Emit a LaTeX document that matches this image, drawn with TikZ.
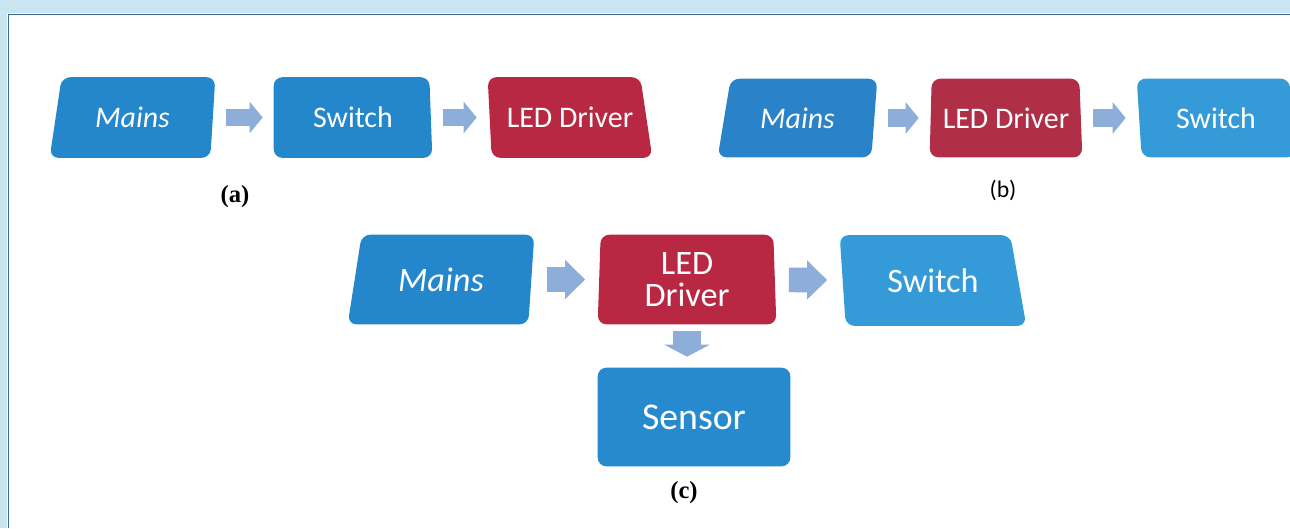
\documentclass[tikz,border=0pt]{standalone}
\usepackage{fontspec}
\setmainfont{Carlito}
\newfontfamily\lblserif{Liberation Serif}
\usetikzlibrary{calc,arrows.meta,backgrounds}

\definecolor{bluebox}{RGB}{36,135,204}
\definecolor{blueboxb}{RGB}{42,130,200}
\definecolor{lightbox}{RGB}{52,155,216}
\definecolor{sensorbox}{RGB}{40,138,206}
\definecolor{redbox}{RGB}{184,40,66}
\definecolor{redboxb}{RGB}{176,46,70}
\definecolor{arrowblue}{RGB}{140,174,216}
\definecolor{bandblue}{RGB}{200,229,241}
\definecolor{frameline}{RGB}{58,108,142}

\tikzset{
  box/.style={inner sep=0pt, text=white, align=center, font=\fontsize{17}{20}\selectfont},
  bigbox/.style={box, font=\fontsize{19.5}{18.2}\selectfont},
  flow/.style={draw=arrowblue, line width=9.7pt, -{Triangle[width=17.6pt,length=7.4pt]},
    shorten <=0.22cm, shorten >=0.22cm},
  bigflow/.style={draw=arrowblue, line width=14pt, -{Triangle[width=21.6pt,length=11.4pt]},
    shorten <=0.25cm, shorten >=0.25cm},
  downflow/.style={draw=arrowblue, line width=15.9pt, -{Triangle[width=25.6pt,length=6.8pt]},
    shorten <=0.14cm, shorten >=0.22cm},
  caption/.style={inner sep=0pt, font=\lblserif\bfseries\fontsize{14}{16}\selectfont}
}

% filled slab behind a node: insets of top-left, top-right, bottom-right, bottom-left corner
\newcommand{\slab}[6]{%
  \fill[#2, rounded corners=5pt] ($(#1.north west)+(#3,0)$) -- ($(#1.north east)+(-#4,0)$)
    -- ($(#1.south east)+(-#5,0)$) -- ($(#1.south west)+(#6,0)$) -- cycle;}

\begin{document}
\begin{tikzpicture}[x=0.02cm, y=-0.02cm]
\def\rowa{117.5}
\def\rowb{118}
\def\rowc{279.5}
\useasboundingbox (0,0) rectangle (1290,528);

% frame of the scan
\fill[bandblue] (0,0) rectangle (1290,13);
\fill[bandblue] (0,0) rectangle (7,528);
\draw[frameline, line width=1.1pt] (8.5,528) -- (8.5,14.5) -- (1290,14.5);

% (a)
\node[box, minimum width=3.3cm, minimum height=1.6cm] (m1) at (132.5,\rowa) {\itshape Mains};
\node[box, minimum width=3.16cm, minimum height=1.6cm] (s1) at (353,\rowa) {Switch};
\node[box, minimum width=3.28cm, minimum height=1.6cm] (l1) at (570,\rowa) {LED Driver};
\draw[flow] (m1) -- (s1);
\draw[flow] (s1) -- (l1);
\node[caption] (lbla) at (235,197) {(a)};

% (b)
\node[box, minimum width=3.18cm, minimum height=1.56cm] (m2) at (797.5,\rowb) {\itshape Mains};
\node[box, minimum width=3.04cm, minimum height=1.56cm] (l2) at (1006,\rowb) {LED Driver};
\node[box, minimum width=3.16cm, minimum height=1.56cm] (w2) at (1216,\rowb) {Switch};
\draw[flow] (m2) -- (l2);
\draw[flow] (l2) -- (w2);
\node[inner sep=0pt, font=\fontsize{13.5}{16}\selectfont] (lblb) at (1003,190) {(b)};

% (c)
\node[bigbox, minimum width=3.72cm, minimum height=1.78cm] (m3) at (441,\rowc) {\itshape Mains};
\node[bigbox, minimum width=3.56cm, minimum height=1.78cm] (l3) at (687,\rowc) {LED\\Driver};
\node[bigbox, minimum width=3.72cm, minimum height=1.8cm] (w3) at (933,\rowc+1) {Switch};
\node[box, font=\fontsize{21.5}{24}\selectfont, minimum width=3.84cm, minimum height=1.96cm] (sen) at (694,417) {Sensor};
\draw[bigflow] (m3) -- (l3);
\draw[bigflow] (l3) -- (w3);
\draw[downflow] (l3) -- (l3 |- sen.north);
\node[caption] (lblc) at (684,493) {(c)};

\begin{scope}[on background layer]
\slab{m1}{bluebox}{12}{0}{5}{0}
\slab{s1}{bluebox}{0}{3}{0}{0}
\slab{l1}{redbox}{0}{12}{0}{4}
\slab{m2}{blueboxb}{13}{0}{6}{0}
\slab{l2}{redboxb}{2}{3}{0}{0}
\slab{w2}{lightbox}{0}{6}{0}{5}
\slab{m3}{bluebox}{14}{0}{6}{0}
\slab{l3}{redbox}{3}{3}{0}{0}
\slab{w3}{lightbox}{0}{16}{0}{6}
\slab{sen}{sensorbox}{0}{0}{0}{0}
\end{scope}
\end{tikzpicture}
\end{document}
